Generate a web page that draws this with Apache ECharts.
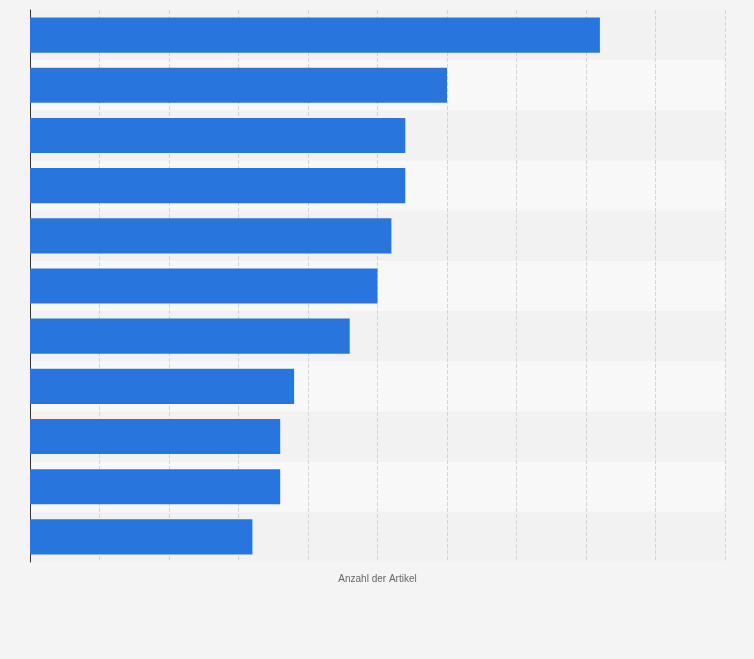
<!DOCTYPE html>
<html><head><meta charset="utf-8">
<script src="https://cdn.jsdelivr.net/npm/echarts@6/dist/echarts.min.js"></script>
<style>html,body{margin:0;padding:0;background:#f4f4f4}#c{width:754px;height:659px}</style>
</head><body><div id="c"></div>
<script>
const categories = ["A","B","C","D","E","F","G","H","I","J","K"];
const values = [41,30,27,27,26,25,23,19,18,18,16];
const chart = echarts.init(document.getElementById('c'));
chart.setOption({
  backgroundColor:'#f4f4f4',
  animation:false,
  grid:{left:30,right:29,top:10,bottom:97},
  xAxis:{type:'value',min:0,max:50,interval:5,
    name:'Anzahl der Artikel',nameLocation:'middle',nameGap:12,
    nameTextStyle:{color:'#666',fontSize:10,fontFamily:'Arial'},
    axisLabel:{show:false},axisLine:{show:false},axisTick:{show:false},
    splitLine:{show:true,lineStyle:{color:'#d4d4d4',type:'dashed'}}},
  yAxis:{type:'category',data:categories,inverse:true,
    axisLabel:{show:false},axisTick:{show:false},
    axisLine:{show:true,lineStyle:{color:'#333'}},
    splitArea:{show:true,areaStyle:{color:['#f2f2f2','#f8f8f8']}}},
  series:[{type:'bar',data:values,barWidth:'70%',itemStyle:{color:'#2876dd'}}]
});
</script></body></html>
